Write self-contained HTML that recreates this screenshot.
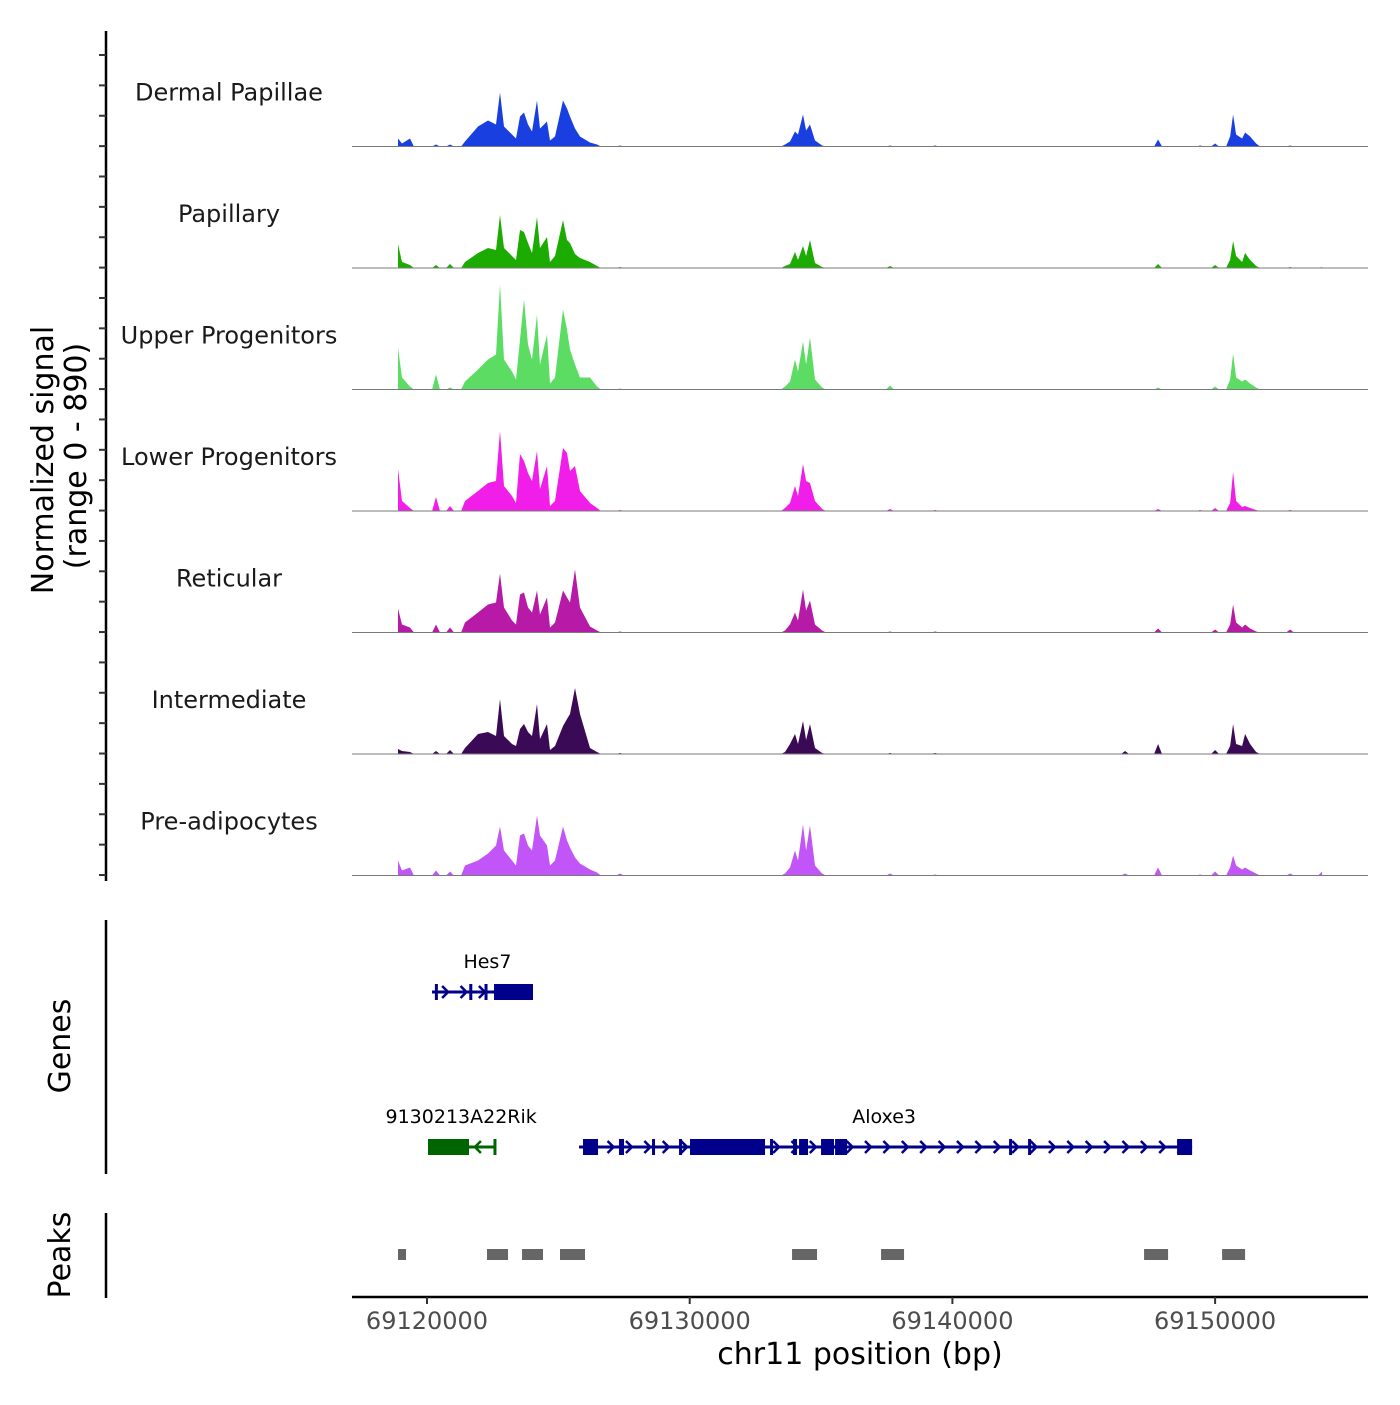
<!DOCTYPE html>
<html><head><meta charset="utf-8"><style>
html,body{margin:0;padding:0;background:#fff;}
svg text{font-family:"DejaVu Sans","Liberation Sans",sans-serif;}
</style></head><body>
<svg id="chart" width="1400" height="1400" viewBox="0 0 1400 1400" xmlns="http://www.w3.org/2000/svg">
<g id="tracks"></g>
<g id="leftaxis"></g>
<text transform="translate(53,460) rotate(-90)" text-anchor="middle" font-size="30" fill="#000">Normalized signal</text>
<text transform="translate(86,456) rotate(-90)" text-anchor="middle" font-size="30" fill="#000">(range 0 - 890)</text>
<line x1="106" y1="920" x2="106" y2="1174" stroke="#000" stroke-width="2.5"/>
<text transform="translate(70,1046) rotate(-90)" text-anchor="middle" font-size="30" fill="#000">Genes</text>
<line x1="106" y1="1213" x2="106" y2="1298" stroke="#000" stroke-width="2.5"/>
<text transform="translate(70,1255) rotate(-90)" text-anchor="middle" font-size="30" fill="#000">Peaks</text>
<g id="genes"></g>
<g id="peaks"></g>
<g id="xaxis"></g>
<text x="860" y="1364" text-anchor="middle" font-size="30" fill="#000">chr11 position (bp)</text>
</svg>
<script>
const positions=[69118896,69119048,69119353,69120343,69120876,69121447,69121942,69122322,69122627,69122779,69122931,69123236,69123388,69123541,69123693,69123845,69123997,69124188,69124302,69124568,69124683,69124873,69125178,69125330,69125444,69125634,69125825,69126205,69126472,69127348,69133629,69133819,69134010,69134124,69134314,69134429,69134581,69134771,69135038,69137626,69139340,69146573,69147829,69149428,69149999,69150570,69150684,69150799,69151027,69151141,69151332,69151560,69152854,69154073];
const trackNames=["Dermal Papillae","Papillary","Upper Progenitors","Lower Progenitors","Reticular","Intermediate","Pre-adipocytes"];
const trackColors=["#1a3fe0","#1cab00","#5ddc64","#f01ee8","#b81aa8","#3b0a57","#c255f7"];
// signal values (scaled, 121 = 890 normalized)
const dermal=[8,3,8,2,2,5,20,26,22,54,20,12,8,30,34,22,15,46,18,25,6,10,46,38,30,18,10,4,2,1,2,5,15,12,32,16,22,6,1,1,1,0,7,1,3,10,32,12,8,14,10,3,1,0];
const papillary=[24,6,3,3,4,6,15,20,18,53,20,12,8,38,36,25,15,51,20,31,6,12,48,28,25,14,10,6,2,1,2,4,16,8,22,12,28,5,1,2,0,0,4,0,3,8,27,12,6,15,8,2,1,1];
const upper=[42,12,3,15,2,8,20,30,35,105,30,18,10,50,90,45,30,75,25,55,6,12,80,60,40,25,12,12,3,1,3,8,30,18,48,25,52,10,2,4,0,0,2,0,3,10,36,12,8,10,6,2,0,0];
const lower=[42,10,3,14,5,10,20,28,30,80,25,15,8,57,50,38,30,60,22,45,5,10,63,58,40,45,20,8,3,1,3,8,25,15,47,30,28,10,2,2,1,0,2,1,3,8,39,10,4,5,3,1,1,0];
const reticular=[24,8,5,8,5,10,20,28,30,59,25,12,8,38,40,25,20,42,18,35,5,10,42,35,30,63,25,6,2,1,2,8,20,12,43,22,32,8,2,1,1,0,4,0,3,8,28,10,5,8,4,1,3,0];
const intermediate=[5,3,2,3,4,6,20,22,18,55,18,10,8,25,30,22,18,50,15,30,4,8,28,35,40,66,40,6,2,1,2,10,20,10,33,14,30,6,1,1,1,3,10,0,4,8,30,10,8,20,10,2,0,0];
const preadipo=[15,5,8,5,4,10,15,22,30,49,25,15,10,40,42,30,25,60,40,30,10,15,49,35,28,18,12,6,3,2,2,8,25,15,51,25,50,10,2,2,1,2,8,1,4,8,20,10,6,8,5,2,2,4];
const trackValues=[dermal,papillary,upper,lower,reticular,intermediate,preadipo];
const xTicks=[69120000,69130000,69140000,69150000];
const peakStarts=[69118896,69122284,69123617,69125063,69133896,69137284,69147296,69150266];
const peakEnds=[69119201,69123084,69124416,69126015,69134847,69138159,69148210,69151141];

const NS="http://www.w3.org/2000/svg";
const X0=352,X1=1368,D0=69117145,D1=69155820;
function xs(bp){return X0+(bp-D0)/(D1-D0)*(X1-X0);}
const baseTop=25,trackH=121.5,vMax=121.5;
function ys(i,v){const base=baseTop+(i+1)*trackH;return base-v/vMax*trackH;}
function mk(tag,attrs,parent){const e=document.createElementNS(NS,tag);for(const k in attrs)e.setAttribute(k,attrs[k]);parent.appendChild(e);return e;}

const tg=document.getElementById('tracks');
trackNames.forEach((name,i)=>{
  const g=mk('g',{},tg);
  
  
  const vals=trackValues[i];
  const base=ys(i,0);
  let d='M'+xs(positions[0]).toFixed(1)+','+base;
  positions.forEach((p,j)=>{
    const gapPrev=j>0?p-positions[j-1]:0;
    if(j>0&&gapPrev>500){d+=' L'+xs(p-150).toFixed(1)+','+base;}
    d+=' L'+xs(p).toFixed(1)+','+ys(i,vals[j]).toFixed(1);
    const gapNext=j<positions.length-1?positions[j+1]-p:0;
    if(gapNext>500){d+=' L'+xs(p+150).toFixed(1)+','+base;}
  });
  d+=' L'+xs(positions[positions.length-1]).toFixed(1)+','+base+' Z';
  const a=mk('path',{d:d,fill:trackColors[i]},g);
  
  
  const bl=mk('line',{x1:X0,x2:X1,y1:base,y2:base,stroke:'#7a7a7a','stroke-width':1},g);
  
  
  const t=mk('text',{x:229,y:base-46,'text-anchor':'middle','font-size':24,fill:'#1a1a1a'},g);
  t.textContent=name;
  
  
});

const la=document.getElementById('leftaxis');
mk('line',{x1:106,y1:31,x2:106,y2:881,stroke:'#000','stroke-width':2.5},la);
for(let k=0;k<=27;k++){
  const y=875-k*30.37;
  const tk=mk('line',{x1:99,x2:106,y1:y,y2:y,stroke:'#333','stroke-width':2},la);
  
  
}

const gg=document.getElementById('genes');
const genes=[
 {name:'Hes7',color:'#00008b',y:992,start:69120190,end:69124035,dir:1,labelX:69122300,
  exons:[[69122551,69124035,16],[69120300,69120343,16],[69121610,69121637,16],[69122190,69122208,16]]},
 {name:'9130213A22Rik',color:'#006400',y:1147,start:69120038,end:69122551,dir:-1,labelX:69121300,
  exons:[[69120038,69121599,16],[69122530,69122551,16]]},
 {name:'Aloxe3',color:'#00008b',y:1147,start:69125787,end:69149124,dir:1,labelX:69137400,
  exons:[[69125939,69126510,16],[69127309,69127500,16],[69128566,69128680,16],[69129594,69129670,16],[69130012,69132867,16],[69133058,69133172,16],[69133933,69134086,16],[69134162,69134505,16],[69134999,69135494,16],[69135533,69135989,16],[69142157,69142233,16],[69142880,69142995,16],[69148553,69149124,16]]}
];
genes.forEach(gn=>{
  const g=mk('g',{},gg);
  
  
  mk('line',{x1:xs(gn.start),x2:xs(gn.end),y1:gn.y,y2:gn.y,stroke:gn.color,'stroke-width':3},g);
  for(let p=gn.start+500;p<gn.end-300;p+=700){
    const x=xs(p);
    mk('polyline',{points:(x-3*gn.dir)+','+(gn.y-6)+' '+(x+3*gn.dir)+','+gn.y+' '+(x-3*gn.dir)+','+(gn.y+6),fill:'none',stroke:gn.color,'stroke-width':2.5},g);
  }
  gn.exons.forEach(e=>{
    const w=Math.max(3,xs(e[1])-xs(e[0]));
    const r=mk('rect',{x:xs(e[0]),y:gn.y-e[2]/2,width:w,height:e[2],fill:gn.color},g);
    
    
  });
  const t=mk('text',{x:xs(gn.labelX),y:gn.y-24,'text-anchor':'middle','font-size':19,fill:'#000'},g);
  t.textContent=gn.name;
  
  
});

const pg=document.getElementById('peaks');
peakStarts.forEach((s,i)=>{
  const r=mk('rect',{x:xs(s),y:1249,width:xs(peakEnds[i])-xs(s),height:11,fill:'#666'},pg);
  
  
});

const xa=document.getElementById('xaxis');
mk('line',{x1:X0,x2:X1,y1:1297,y2:1297,stroke:'#000','stroke-width':2.5},xa);
xTicks.forEach(t=>{
  const x=xs(t);
  const tk=mk('line',{x1:x,x2:x,y1:1297,y2:1304,stroke:'#333','stroke-width':2},xa);
  
  
  const tl=mk('text',{x:x,y:1329,'text-anchor':'middle','font-size':24,fill:'#4d4d4d'},xa);
  tl.textContent=t;
  
  
});
</script>
</body></html>
